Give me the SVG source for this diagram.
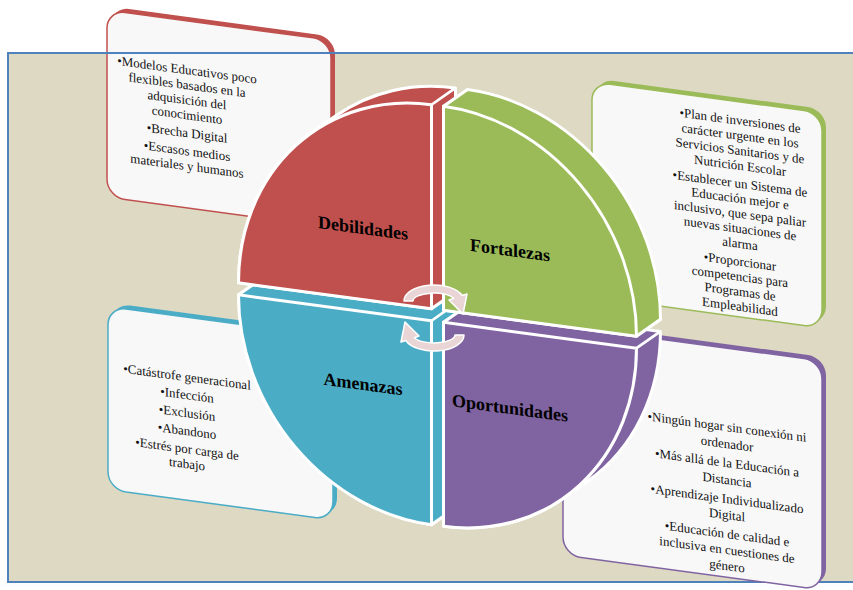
<svg xmlns="http://www.w3.org/2000/svg" width="853" height="590" viewBox="0 0 853 590">
<style>
.frame{fill:#ddd9c3;stroke:#4f81bd;stroke-width:2}
.bf{fill:#f8f8f8;stroke-width:1.5}
.t{font-family:"Liberation Serif","Times New Roman",serif;font-size:13px;text-anchor:middle;fill:#111}
.lbl{font-family:"Liberation Serif","Times New Roman",serif;font-size:18px;font-weight:bold;text-anchor:middle;fill:#000}
.q{stroke:#fff;stroke-width:3;stroke-linejoin:round}
.edge{stroke:#fff;stroke-width:2.5;fill:none}
.arr{fill:#e9d5d5;stroke:#fff;stroke-width:1.5;stroke-linejoin:round}
</style>
<rect x="0" y="0" width="853" height="590" fill="#ffffff"/>
<rect class="frame" x="8" y="53" width="860" height="529"/>

<g id="box-debilidades" transform="matrix(1 0.135 0 1 0 0)">
  <rect x="111" y="-8.4" width="224" height="187" rx="18" fill="#c0504d"/>
  <rect class="bf" x="107" y="-4.4" width="224" height="187" rx="18" stroke="#c0504d"/>
  <text class="t" x="187" y="49">•Modelos Educativos poco</text>
  <text class="t" x="187" y="64">flexibles basados en la</text>
  <text class="t" x="187" y="79">adquisición del</text>
  <text class="t" x="187" y="94">conocimiento</text>
  <text class="t" x="187" y="112">•Brecha Digital</text>
  <text class="t" x="187" y="130">•Escasos medios</text>
  <text class="t" x="187" y="145">materiales y humanos</text>
</g>
<line x1="8" y1="53" x2="853" y2="53" stroke="#4f81bd" stroke-width="2"/>

<g id="box-fortalezas" transform="matrix(1 0.135 0 1 0 0)">
  <rect x="596" y="-2" width="230" height="215" rx="18" fill="#9bbb59"/>
  <rect class="bf" x="592" y="2" width="230" height="215" rx="18" stroke="#9bbb59"/>
  <text class="t" x="740" y="25">•Plan de inversiones de</text>
  <text class="t" x="740" y="40">carácter urgente en los</text>
  <text class="t" x="740" y="55">Servicios Sanitarios y de</text>
  <text class="t" x="740" y="70">Nutrición Escolar</text>
  <text class="t" x="740" y="88">•Establecer un Sistema de</text>
  <text class="t" x="740" y="103">Educación mejor e</text>
  <text class="t" x="740" y="118">inclusivo, que sepa paliar</text>
  <text class="t" x="740" y="133">nuevas situaciones de</text>
  <text class="t" x="740" y="148">alarma</text>
  <text class="t" x="740" y="166">•Proporcionar</text>
  <text class="t" x="740" y="181">competencias para</text>
  <text class="t" x="740" y="196">Programas de</text>
  <text class="t" x="740" y="211">Empleabilidad</text>
</g>

<g id="box-amenazas" transform="matrix(1 0.135 0 1 0 0)">
  <rect x="112" y="288" width="225" height="183" rx="18" fill="#4bacc6"/>
  <rect class="bf" x="108" y="292" width="225" height="183" rx="18" stroke="#4bacc6"/>
  <text class="t" x="187" y="356">•Catástrofe generacional</text>
  <text class="t" x="187" y="374">•Infección</text>
  <text class="t" x="187" y="392">•Exclusión</text>
  <text class="t" x="187" y="410">•Abandono</text>
  <text class="t" x="187" y="428">•Estrés por carga de</text>
  <text class="t" x="187" y="443">trabajo</text>
</g>

<g id="box-oportunidades" transform="matrix(1 0.135 0 1 0 0)">
  <rect x="567" y="246" width="259" height="229" rx="18" fill="#8064a2"/>
  <rect class="bf" x="563" y="250" width="259" height="229" rx="18" stroke="#8064a2"/>
  <text class="t" x="727" y="333">•Ningún hogar sin conexión ni</text>
  <text class="t" x="727" y="350">ordenador</text>
  <text class="t" x="727" y="369">•Más allá de la Educación a</text>
  <text class="t" x="727" y="386">Distancia</text>
  <text class="t" x="727" y="405">•Aprendizaje Individualizado</text>
  <text class="t" x="727" y="421">Digital</text>
  <text class="t" x="727" y="440">•Educación de calidad e</text>
  <text class="t" x="727" y="456">inclusiva en cuestiones de</text>
  <text class="t" x="727" y="472">género</text>
</g>

<g id="disc" transform="matrix(1 0.134 0 1 437.5 315.5)">
  <g id="q-amenazas">
    <path class="q" fill="#4bacc6" d="M -199,6 L -175,-14 L 18,-14 L 18,190 L -6,210 A 193 204 0 0 1 -199,6 Z"/>
    <line class="edge" x1="-6" y1="6" x2="18" y2="-14"/>
    <path class="q" fill="#4bacc6" d="M -6,6 L -6,210 A 193 204 0 0 1 -199,6 Z"/>
    <text class="lbl" x="-74.5" y="84.5">Amenazas</text>
  </g>
  <g id="q-oportunidades">
    <path class="q" fill="#8064a2" d="M 6,6 L 30,-14 L 223,-14 A 193 204 0 0 1 149.6,146.1 L 125.6,166.1 A 193 204 0 0 1 6,210 Z"/>
    <line class="edge" x1="199" y1="6" x2="223" y2="-14"/>
    <path class="q" fill="#8064a2" d="M 6,6 L 199,6 A 193 204 0 0 1 6,210 Z"/>
    <text class="lbl" x="72.5" y="88.8">Oportunidades</text>
  </g>
  <g id="q-debilidades">
    <path class="q" fill="#c0504d" d="M -199,-6 A 193 204 0 0 1 -125.6,-166.1 L -101.6,-186.1 A 193 204 0 0 1 18,-230 L 18,-26 L -6,-6 Z"/>
    <line class="edge" x1="-6" y1="-210" x2="18" y2="-230"/>
    <path class="q" fill="#c0504d" d="M -6,-6 L -199,-6 A 193 204 0 0 1 -6,-210 Z"/>
    <text class="lbl" x="-74.5" y="-71.5">Debilidades</text>
  </g>
  <g id="q-fortalezas">
    <path class="q" fill="#9bbb59" d="M 6,-6 L 6,-210 L 30,-230 A 193 204 0 0 1 223,-26 L 199,-6 Z"/>
    <path class="q" fill="#9bbb59" d="M 6,-6 L 6,-210 A 193 204 0 0 1 199,-6 Z"/>
    <text class="lbl" x="72.5" y="-69.2">Fortalezas</text>
  </g>
</g>

<g id="connectors">
  <path class="arr" d="M 404,301 A 30 16 0 0 1 462.2,295.5 L 467,294 L 463,314 L 449,300 L 453.7,298.3 A 21 8 0 0 0 413,301 Z"/>
  <path class="arr" d="M 464,335 A 30 16 0 0 1 405.8,340.5 L 401,342 L 405,322 L 419,336 L 414.3,337.7 A 21 8 0 0 0 455,335 Z"/>
</g>
</svg>
